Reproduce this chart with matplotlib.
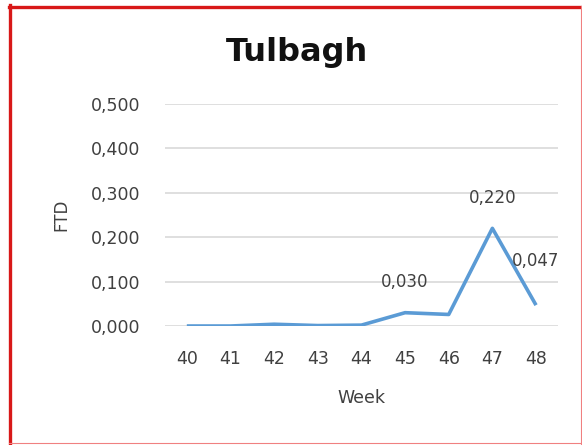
import matplotlib
matplotlib.use('Agg')
import matplotlib.pyplot as plt
import matplotlib.ticker as tick
from matplotlib.lines import Line2D

weeks = [40, 41, 42, 43, 44, 45, 46, 47, 48]
ftd = [0.0, 0.0, 0.004, 0.001, 0.002, 0.030, 0.026, 0.220, 0.047]
labelled = {45: (0, 22), 47: (0, 22), 48: (0, 32)}
yticks = [0.0, 0.1, 0.2, 0.3, 0.4, 0.5]

plt.rcParams['font.family'] = ['DejaVu Sans']
txt = '#404040'

fig = plt.figure(figsize=(5.82, 4.45), dpi=100)
ax = fig.add_axes([0.2835, 0.2674, 0.675, 0.4989])

ax.plot(weeks, ftd, color='#5B9BD5', lw=2.6, solid_capstyle='butt', zorder=3)
for w, v in zip(weeks, ftd):
    if w in labelled:
        ax.annotate(('%.3f' % v).replace('.', ','), (w, v), xytext=labelled[w],
                    textcoords='offset points', ha='center', va='center',
                    fontsize=12, color=txt)

ax.set_xlim(39.5, 48.5)
ax.set_ylim(0, 0.5)
ax.set_xticks(weeks)
ax.set_yticks(yticks)
ax.yaxis.set_major_formatter(tick.FuncFormatter(lambda v, p: ('%.3f' % v).replace('.', ',')))
ax.grid(axis='y', color='#d9d9d9', lw=1.2)
ax.set_axisbelow(True)
for s in ax.spines.values():
    s.set_visible(False)
ax.tick_params(length=0, labelsize=12.5, labelcolor=txt, pad=17)
ax.tick_params(axis='y', pad=18)
ax.set_xlabel('Week', fontsize=12.5, color=txt)
ax.set_ylabel('FTD', fontsize=12, color=txt)
ax.xaxis.set_label_coords(0.5, -0.284)
ax.yaxis.set_label_coords(-0.242, 0.5)
fig.text(0.51, 0.883, 'Tulbagh', ha='center', va='center', fontsize=23,
         fontweight='bold', color='#111111')

# red frame round the picture
W, H = 582, 445
fig.add_artist(Line2D([10.5 / W, 10.5 / W], [0, 1 - 5 / H], color='#d81818', lw=2.4))
fig.add_artist(Line2D([9 / W, 1], [1 - 6.5 / H, 1 - 6.5 / H], color='#d81818', lw=2.4))
fig.add_artist(Line2D([580.5 / W, 580.5 / W], [0, 1 - 6 / H], color='#f08080', lw=0.8))
fig.add_artist(Line2D([9 / W, 1], [2 / H, 2 / H], color='#f08080', lw=0.8))

fig.savefig('out.png', dpi=100)
